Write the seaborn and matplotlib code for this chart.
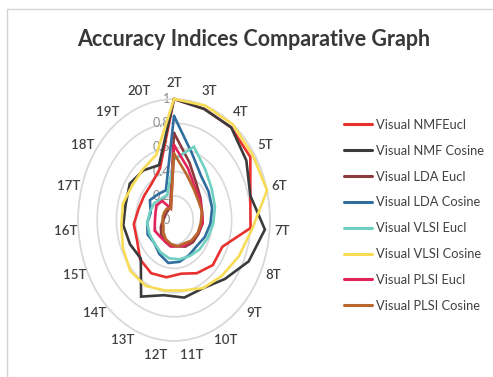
import numpy as np
import pandas as pd
import matplotlib
matplotlib.use("Agg")
import matplotlib.pyplot as plt
from matplotlib.patches import Rectangle
import seaborn as sns

# Topic counts on the radar spokes (clockwise from the top)
categories = ["2T", "3T", "4T", "5T", "6T", "7T", "8T", "9T", "10T", "11T",
              "12T", "13T", "14T", "15T", "16T", "17T", "18T", "19T", "20T"]

series_names = ["Visual NMFEucl", "Visual NMF Cosine", "Visual LDA Eucl",
                "Visual LDA Cosine", "Visual VLSI Eucl", "Visual VLSI Cosine",
                "Visual PLSI Eucl", "Visual PLSI Cosine"]

nmf_eucl = [1.00, 0.97, 0.97, 0.95, 0.82, 0.80, 0.55, 0.55, 0.50, 0.45,
            0.48, 0.50, 0.48, 0.42, 0.42, 0.38, 0.37, 0.38, 0.45]
nmf_cosine = [1.00, 0.97, 0.97, 0.90, 0.82, 0.95, 0.85, 0.72, 0.64, 0.65,
              0.63, 0.72, 0.47, 0.50, 0.53, 0.52, 0.55, 0.52, 0.48]
lda_eucl = [0.72, 0.50, 0.38, 0.33, 0.30, 0.30, 0.28, 0.27, 0.25, 0.22,
            0.22, 0.20, 0.18, 0.15, 0.12, 0.10, 0.10, 0.10, 0.12]
lda_cosine = [0.86, 0.58, 0.46, 0.43, 0.41, 0.38, 0.35, 0.32, 0.33, 0.35,
              0.36, 0.32, 0.28, 0.30, 0.28, 0.25, 0.30, 0.27, 0.26]
vlsi_eucl = [0.50, 0.64, 0.53, 0.47, 0.44, 0.41, 0.38, 0.36, 0.34, 0.33,
             0.32, 0.30, 0.28, 0.28, 0.28, 0.26, 0.25, 0.22, 0.22]
vlsi_cosine = [1.00, 1.00, 1.00, 0.98, 1.00, 0.82, 0.74, 0.68, 0.64, 0.59,
               0.59, 0.62, 0.62, 0.58, 0.55, 0.55, 0.52, 0.53, 0.57]
plsi_eucl = [0.62, 0.45, 0.35, 0.32, 0.30, 0.30, 0.27, 0.25, 0.24, 0.22,
             0.22, 0.20, 0.20, 0.22, 0.20, 0.20, 0.22, 0.20, 0.10]
plsi_cosine = [0.55, 0.40, 0.33, 0.30, 0.30, 0.28, 0.27, 0.25, 0.22, 0.22,
               0.20, 0.18, 0.15, 0.12, 0.12, 0.12, 0.12, 0.12, 0.10]

series_values = [nmf_eucl, nmf_cosine, lda_eucl, lda_cosine,
                 vlsi_eucl, vlsi_cosine, plsi_eucl, plsi_cosine]

colors = ["#E8302F", "#3B3B3B", "#8E3A3C", "#2F6E9E",
          "#6FD0C2", "#F9DC55", "#E2245A", "#B8662C"]

radial_ticks = [0.0, 0.2, 0.4, 0.6, 0.8, 1.0]
radial_labels = ["0", "0.2", "0.4", "0.6", "0.8", "1"]

# Long-form table, each polygon closed back onto its first spoke
n = len(categories)
angles = np.linspace(0, 2 * np.pi, n, endpoint=False)
rows = []
for name, vals in zip(series_names, series_values):
    for a, v in zip(np.append(angles, 2 * np.pi), vals + vals[:1]):
        rows.append({"series": name, "theta": a, "value": v})
df = pd.DataFrame(rows)

sns.set_style("white")
plt.rcParams["font.family"] = ["Lato", "DejaVu Sans"]

W, H = 493, 377
fig = plt.figure(figsize=(W / 100, H / 100), dpi=100)
fig.patch.set_facecolor("white")

# Chart-area frame
fig.add_artist(Rectangle((7 / W, -0.05), 1.2, (H - 9) / H + 0.05,
                         transform=fig.transFigure, fill=False,
                         edgecolor="#d4d4d4", lw=1.0))

cx, cy, rx, ry = 174, 220, 96, 121
ax = fig.add_axes([(cx - rx) / W, (H - cy - ry) / H, 2 * rx / W, 2 * ry / H],
                  projection="polar")
ax.set_aspect("auto")
ax.set_facecolor("none")
ax.set_theta_zero_location("N")
ax.set_theta_direction(-1)

sns.lineplot(data=df, x="theta", y="value", hue="series",
             hue_order=series_names, palette=dict(zip(series_names, colors)),
             sort=False, estimator=None, linewidth=1.9, ax=ax, legend=True)
for ln in ax.lines:
    ln.set_clip_on(False)
    ln.set_zorder(3)
    ln.set_solid_joinstyle("miter")

ax.set_ylim(0, 1)
ax.set_yticks(radial_ticks[1:])
ax.set_yticklabels([])
ax.set_xticks(angles)
ax.set_xticklabels([])
ax.set_xlabel("")
ax.set_ylabel("")
ax.xaxis.grid(False)
ax.yaxis.grid(True, color="#d9d9d9", lw=1.2)
ax.spines["polar"].set_edgecolor("#d9d9d9")
ax.spines["polar"].set_linewidth(1.2)

for v, lab in zip(radial_ticks, radial_labels):
    ax.annotate(lab, xy=(0, v), xytext=(-3, 0), textcoords="offset points",
                ha="right", va="center", fontsize=9, color="#8c8c8c",
                zorder=1.5, annotation_clip=False)

for a, cat in zip(angles, categories):
    ax.text(a, 1.13, cat, ha="center", va="center", fontsize=9.5,
            fontweight="semibold", color="#404040", clip_on=False)

handles, labels = ax.get_legend_handles_labels()
ax.legend_.remove()
fig.legend(handles, labels, loc="upper left",
           bbox_to_anchor=(344 / W, 1 - 119 / H), frameon=False,
           fontsize=9.3, handlelength=2.2, handletextpad=0.3,
           labelspacing=1.07, borderpad=0, borderaxespad=0)
for h in fig.legends[0].get_lines():
    h.set_linewidth(2.2)
for t in fig.legends[0].get_texts():
    t.set_color("#404040")

fig.text(254 / W, 1 - 40 / H, "Accuracy Indices Comparative Graph",
         ha="center", va="center", fontsize=15.5, fontweight="bold",
         color="#383838")

fig.savefig("out.png", dpi=100, facecolor="white")
